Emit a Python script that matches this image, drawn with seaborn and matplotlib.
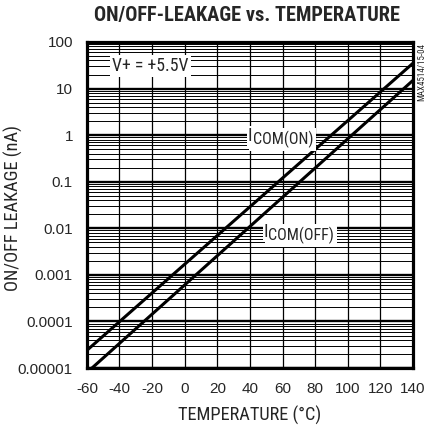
import numpy as np
import pandas as pd
import seaborn as sns
import matplotlib
matplotlib.use("Agg")
import matplotlib.pyplot as plt
from matplotlib.ticker import LogLocator, FixedLocator, NullFormatter

# Data
temps = [-60, 140]
i_com_on = [2.4e-5, 35.0]
i_com_off = [8.0e-6, 15.0]
x_ticks = [-60, -40, -20, 0, 20, 40, 60, 80, 100, 120, 140]
y_ticks = [1e-5, 1e-4, 1e-3, 1e-2, 1e-1, 1, 10, 100]
y_tick_labels = ["0.00001", "0.0001", "0.001", "0.01", "0.1", "1", "10", "100"]

sns.set_style("white")
COND = ['Roboto Condensed', 'Archivo Narrow', 'Liberation Sans', 'DejaVu Sans']
REG = ['Liberation Sans', 'DejaVu Sans']
plt.rcParams['font.family'] = COND
plt.rcParams['axes.unicode_minus'] = False

df = pd.DataFrame({
    "temp": temps * 2,
    "leak": i_com_on + i_com_off,
    "series": ["ON"] * 2 + ["OFF"] * 2,
})

fig = plt.figure(figsize=(4.28, 4.28), dpi=100)
ax = fig.add_axes([0.203, 0.140, 0.762, 0.762])

ax.set_yscale("log")
ax.set_xlim(-60, 140)
ax.set_ylim(1e-5, 100)

ax.set_xticks(x_ticks)
ax.set_xticklabels([str(t) for t in x_ticks])
ax.yaxis.set_major_locator(FixedLocator(y_ticks))
ax.yaxis.set_minor_locator(LogLocator(base=10, subs=np.arange(2, 10)))
ax.yaxis.set_minor_formatter(NullFormatter())
ax.set_yticklabels(y_tick_labels)
ax.grid(True, which="major", axis="x", color="black", lw=0.9)
ax.grid(True, which="major", axis="y", color="black", lw=1.7)
ax.grid(True, which="minor", axis="y", color="black", lw=0.7)
ax.tick_params(which="both", length=0, labelsize=11)
ax.tick_params(axis="x", pad=10)
ax.tick_params(axis="y", pad=10)
for lab in ax.get_xticklabels() + ax.get_yticklabels():
    lab.set_fontfamily(REG)
ax.set_axisbelow(True)

sns.lineplot(data=df, x="temp", y="leak", hue="series", ax=ax,
             palette={"ON": "black", "OFF": "black"}, lw=2.2, legend=False)

for s in ax.spines.values():
    s.set_linewidth(2.3)
    s.set_color("black")

bbox = dict(facecolor="white", edgecolor="none", pad=1.5)
ax.text(-21, 30, "V+ = +5.5V", fontsize=12.8, ha="center", va="center", bbox=bbox, zorder=4)


def sub_label(x, y, sub):
    ax.annotate(sub, xy=(x, y), xytext=(3.6, -2.6), textcoords="offset points",
                fontsize=11.5, ha="left", va="center", zorder=4,
                bbox=dict(facecolor="white", edgecolor="none", pad=2.2))
    ax.text(x, y, "I", fontsize=13, ha="left", va="center", zorder=5,
            bbox=dict(facecolor="white", edgecolor="none", pad=0.5))


sub_label(38.5, 0.95, "COM(ON)")
sub_label(48.3, 0.0083, "COM(OFF)")

ax.set_xlabel("TEMPERATURE (°C)", fontsize=13.2, va="top")
ax.xaxis.set_label_coords(0.5, -0.117)
ax.set_ylabel("ON/OFF LEAKAGE (nA)", fontsize=13.2)
ax.yaxis.set_label_coords(-0.195, 0.49)
fig.text(0.578, 0.964, "ON/OFF-LEAKAGE vs. TEMPERATURE", fontsize=14.7,
         fontweight="bold", ha="center", va="center")
fig.text(0.985, 0.832, "MAX4514/15-04", fontsize=6.5, rotation=90,
         ha="center", va="center")

fig.savefig("out.png", dpi=100)
